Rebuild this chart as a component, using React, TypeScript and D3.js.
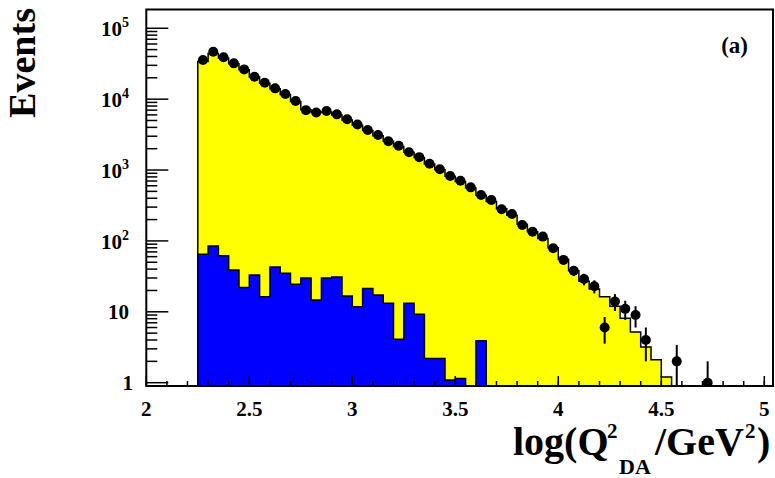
import React from 'react';
import * as d3 from 'd3';

// bin layout: 0.05 wide bins starting at log(Q2) = 2.25
const binLow = 2.25;
const binWidth = 0.05;

// data points (events per bin)
const dataEvents = [35600, 46600, 38900, 32000, 26300, 20700, 17000, 14200, 11800, 9400,
  7000, 6500, 6800, 6100, 5200, 4400, 3670, 3120, 2550, 2200,
  1780, 1520, 1230, 1025, 822, 706, 570, 444, 377, 279,
  240, 168, 135, 115, 79, 54, 38, 29, 23, 6,
  14, 11, 9, 4, 0, 0, 2, 0, 0, 1];

// MC total (yellow)
const mcTotal = [34000, 44000, 38000, 31500, 26000, 20500, 16800, 14000, 11600, 9300,
  7100, 6500, 6600, 6000, 5100, 4300, 3600, 3050, 2550, 2150,
  1780, 1500, 1220, 1010, 820, 690, 560, 440, 360, 285,
  230, 172, 135, 108, 80, 55, 38, 27, 21, 16.3,
  12, 8.1, 5.2, 3.2, 2.1, 1.2];

// background (blue)
const mcBackground = [65, 85, 62, 39, 22, 33, 16.3, 43, 35, 24.4,
  30, 14.7, 30, 31, 16.7, 11.8, 21.4, 17.3, 13.2, 4.1,
  13.2, 9.2, 2.2, 2.2, 1.09, 1.15, 0, 3.9];

const xTickLabels = ['2', '2.5', '3', '3.5', '4', '4.5', '5'];
const yDecades = [0, 1, 2, 3, 4, 5];

const W = 775;
const H = 478;
const left = 146.3, right = 773, top = 9.5, bottom = 386;
const font = '"Liberation Serif", "Times New Roman", serif';

const x = d3.scaleLinear().domain([2, 5]).range([left, 764.3]);
const y = d3.scaleLog().domain([0.898, 1.84e5]).range([bottom, top]);

function histPath(vals: number[]) {
  const pts: [number, number][] = [];
  const yv = (v: number) => (v > 0 ? y(v) : bottom);
  pts.push([x(binLow), bottom]);
  vals.forEach((v, i) => {
    const lo = binLow + i * binWidth;
    pts.push([x(lo), yv(v)]);
    pts.push([x(lo + binWidth), yv(v)]);
  });
  pts.push([x(binLow + vals.length * binWidth), bottom]);
  return d3.line()(pts) as string;
}

export default function App() {
  const xMajor = d3.range(0, 7).map(i => 2 + i * 0.5);
  const xMinor = d3.range(0, 31).map(i => 2 + i * 0.1);
  const yMinor: number[] = [];
  yDecades.forEach(d => {
    for (let k = 2; k <= 9; k++) {
      const v = k * Math.pow(10, d);
      if (v < 1.84e5) yMinor.push(v);
    }
  });

  return (
    <svg width={W} height={H} style={{ position: 'absolute', left: 0, top: 0, background: '#fff' }}
      fontFamily={font} fontWeight="bold">
      <defs>
        <clipPath id="plot">
          <rect x={left} y={top} width={right - left} height={bottom - top} />
        </clipPath>
      </defs>

      <g clipPath="url(#plot)">
        <path d={histPath(mcTotal)} fill="#ffff00" stroke="#000" strokeWidth={1.5} />
        <path d={histPath(mcBackground)} fill="#0000ff" stroke="#000" strokeWidth={1.5} />
        {dataEvents.map((v, i) => {
          if (v <= 0) return null;
          const cx = x(binLow + (i + 0.5) * binWidth);
          const e = Math.sqrt(v);
          const y1 = v - e > 0 ? y(v - e) : bottom;
          return (
            <g key={i}>
              <line x1={cx} x2={cx} y1={y1} y2={y(v + e)} stroke="#000" strokeWidth={2} />
              <circle cx={cx} cy={y(v)} r={5} fill="#000" />
            </g>
          );
        })}
      </g>

      {/* frame */}
      <rect x={left} y={top} width={right - left} height={bottom - top} fill="none" stroke="#000" strokeWidth={2} />

      {/* x ticks */}
      {xMinor.map((t, i) => (
        <line key={'xm' + i} x1={x(t)} x2={x(t)} y1={bottom} y2={bottom - 5} stroke="#000" strokeWidth={1.5} />
      ))}
      {xMajor.map((t, i) => (
        <g key={'xM' + i}>
          <line x1={x(t)} x2={x(t)} y1={bottom} y2={bottom - 10} stroke="#000" strokeWidth={1.5} />
          <text x={x(t)} y={416} fontSize={21} textAnchor="middle">{xTickLabels[i]}</text>
        </g>
      ))}

      {/* y ticks */}
      {yMinor.map((v, i) => (
        <line key={'ym' + i} x1={left} x2={left + 11} y1={y(v)} y2={y(v)} stroke="#000" strokeWidth={1.5} />
      ))}
      {yDecades.map(d => {
        const yy = y(Math.pow(10, d));
        return (
          <g key={'yM' + d}>
            <line x1={left} x2={left + 22} y1={yy} y2={yy} stroke="#000" strokeWidth={1.5} />
            {d === 0 ? (
              <text x={133} y={yy + 7} fontSize={21} textAnchor="end">1</text>
            ) : d === 1 ? (
              <text x={129} y={yy + 7} fontSize={21} textAnchor="end">10</text>
            ) : (
              <text x={129} y={yy + 8} fontSize={21} textAnchor="end">
                10<tspan dy={-9} fontSize={14}>{d}</tspan>
              </text>
            )}
          </g>
        );
      })}

      {/* labels */}
      <text x={748} y={53} fontSize={23} textAnchor="end">(a)</text>
      <text transform="translate(35,63) rotate(-90)" fontSize={37} textAnchor="middle"
        textLength={110} lengthAdjust="spacingAndGlyphs">Events</text>

      <text fontSize={40}>
        <tspan x={513} y={455}>log(Q</tspan>
        <tspan x={607} y={438} fontSize={21}>2</tspan>
        <tspan x={619} y={474} fontSize={22}>DA</tspan>
        <tspan x={655} y={455}>/GeV</tspan>
        <tspan x={745} y={438} fontSize={21}>2</tspan>
        <tspan x={757} y={455}>)</tspan>
      </text>
    </svg>
  );
}
